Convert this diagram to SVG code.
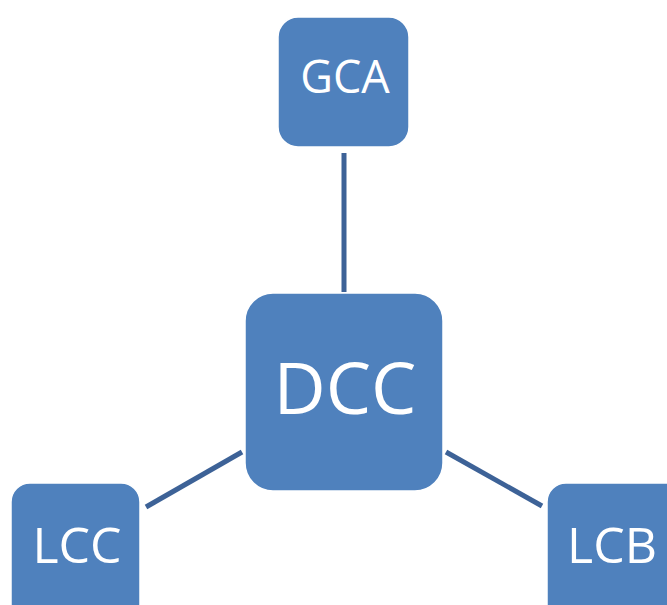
<svg xmlns="http://www.w3.org/2000/svg" width="667" height="605" viewBox="0 0 667 605">
<style>
.box{fill:#4f81bd;stroke:#ffffff;stroke-width:1.5}
.lbl{fill:#ffffff;font-family:"Open Sans","Noto Sans","DejaVu Sans",sans-serif;text-anchor:middle}
.conn{stroke:#3d6297;stroke-width:5;fill:none}
</style>
<rect width="667" height="605" fill="#ffffff"/>
<g id="connectors">
<line class="conn" x1="344" y1="153" x2="344" y2="292"/>
<line class="conn" x1="146" y1="507" x2="242" y2="452"/>
<line class="conn" x1="446" y1="452" x2="542" y2="506"/>
</g>
<g id="GCA">
<rect class="box" x="278" y="17" width="131" height="130" rx="20"/>
<text class="lbl" x="345" y="93" font-size="45">GCA</text>
</g>
<g id="DCC">
<rect class="box" x="245" y="293" width="198" height="198" rx="28"/>
<text class="lbl" x="345" y="414" font-size="72">DCC</text>
</g>
<g id="LCC">
<rect class="box" x="11" y="483" width="129" height="140" rx="19"/>
<text class="lbl" x="77" y="563" font-size="50">LCC</text>
</g>
<g id="LCB">
<rect class="box" x="547" y="483" width="140" height="140" rx="19"/>
<text class="lbl" x="612" y="563" font-size="50">LCB</text>
</g>
</svg>
